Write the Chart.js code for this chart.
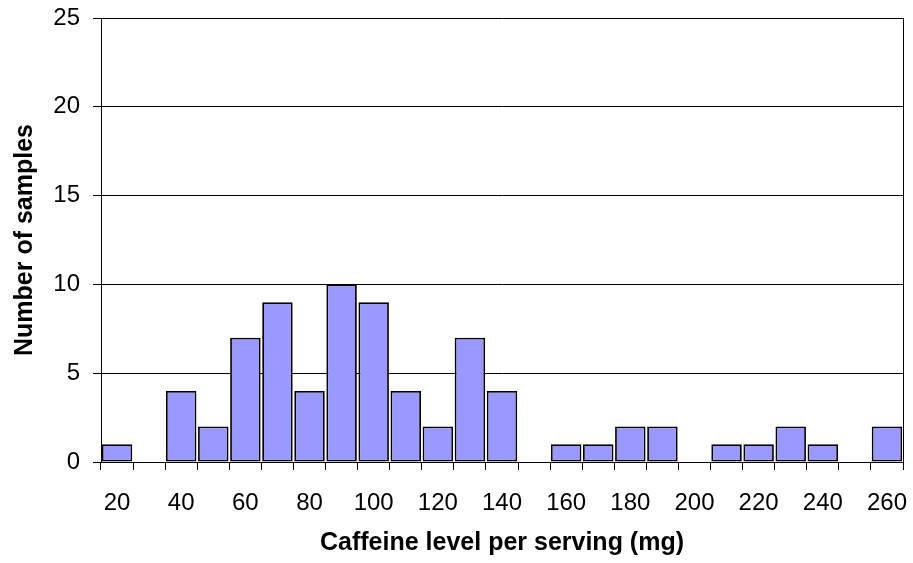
<!DOCTYPE html>
<html>
<head>
<meta charset="utf-8">
<script src="https://cdn.jsdelivr.net/npm/chart.js@4/dist/chart.umd.min.js"></script>
<style>
  html, body { margin: 0; padding: 0; background: #fff; }
  #wrap { width: 913px; height: 563px; }
</style>
</head>
<body>
<div id="wrap"><canvas id="c" width="913" height="563"></canvas></div>
<script>
// Caffeine level bins (mg per serving)
const caffeineBins = ['20','30','40','50','60','70','80','90','100','110','120','130','140',
                      '150','160','170','180','190','200','210','220','230','240','250','260'];
// Number of samples in each bin
const sampleCounts = [1,0,4,2,7,9,4,10,9,4,2,7,4,0,1,1,2,2,0,1,1,2,1,0,2];
// Y axis range
const yTicks = { min: 0, max: 25, step: 5 };

const FONT = "'Liberation Sans', Arial, Helvetica, sans-serif";

new Chart(document.getElementById('c'), {
  type: 'bar',
  data: {
    labels: caffeineBins,
    datasets: [{
      data: sampleCounts,
      backgroundColor: '#9999FF',
      borderColor: '#000000',
      borderWidth: 1.8,
      borderSkipped: false,
      barPercentage: 0.95,
      categoryPercentage: 1.0
    }]
  },
  options: {
    responsive: false,
    animation: false,
    events: [],
    layout: { padding: { left: 0, right: 0, top: 18, bottom: 0 } },
    plugins: { legend: { display: false }, tooltip: { enabled: false } },
    scales: {
      x: {
        type: 'category',
        offset: true,
        grid: {
          offset: true,
          drawOnChartArea: false,
          drawTicks: true,
          tickLength: 8,
          color: '#000000',
          lineWidth: 1
        },
        border: { display: true, color: '#000000', width: 1 },
        ticks: {
          autoSkip: false,
          maxRotation: 0,
          padding: 19,
          color: '#000000',
          font: { family: FONT, size: 24 },
          callback: function (v, i) { return i % 2 === 0 ? this.getLabelForValue(v) : ''; }
        },
        title: {
          display: true,
          text: 'Caffeine level per serving (mg)',
          color: '#000000',
          font: { family: FONT, size: 25, weight: 'bold' },
          padding: { top: 0, bottom: 5 }
        },
        afterFit: (s) => { s.height = 101; s.paddingLeft = 0; s.paddingRight = 0; }
      },
      y: {
        min: yTicks.min,
        max: yTicks.max,
        grid: {
          color: '#000000',
          lineWidth: 1,
          drawTicks: true,
          tickLength: 8
        },
        border: { display: true, color: '#000000', width: 1 },
        ticks: {
          stepSize: yTicks.step,
          padding: 13,
          color: '#000000',
          font: { family: FONT, size: 24 }
        },
        title: {
          display: true,
          text: 'Number of samples',
          color: '#000000',
          font: { family: FONT, size: 25, weight: 'bold' },
          padding: { top: 10, bottom: 0 }
        },
        afterFit: (s) => { s.width = 101; s.paddingTop = 0; s.paddingBottom = 0; }
      },
      yRight: {
        position: 'right',
        min: yTicks.min,
        max: yTicks.max,
        grid: { display: false, drawTicks: false },
        border: { display: true, color: '#000000', width: 1 },
        ticks: { display: false },
        afterFit: (s) => { s.width = 10; s.paddingTop = 0; s.paddingBottom = 0; }
      }
    }
  }
});
</script>
</body>
</html>
